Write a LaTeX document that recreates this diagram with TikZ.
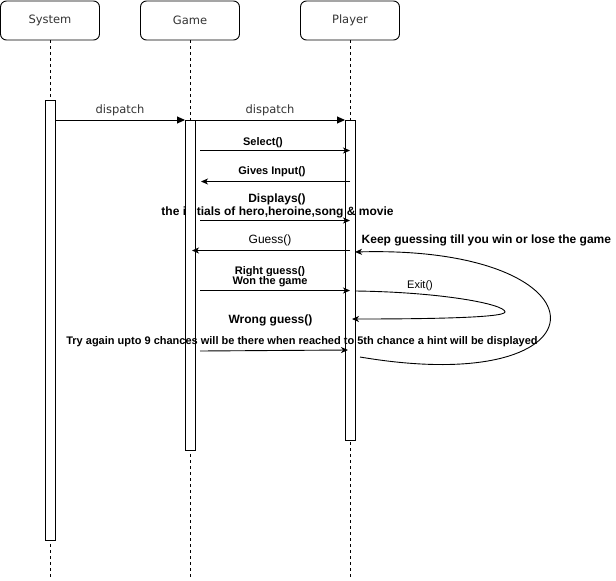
\documentclass[tikz,border=0pt]{standalone}
\usepackage{fontspec}
\setmainfont{Liberation Sans}
\newfontfamily\hdrfont{DejaVu Sans}
\usetikzlibrary{arrows.meta}

\begin{document}
\begin{tikzpicture}[x=1pt,y=-1pt,
  actor/.style={draw, rounded corners=6pt, minimum width=99pt, minimum height=39pt,
    line width=0.9pt, font=\hdrfont\fontsize{11.5}{13}\selectfont, text=black!80},
  lifeline/.style={dash pattern=on 3pt off 3pt, line width=0.8pt},
  bar/.style={draw, fill=white, minimum width=10pt, inner sep=0pt, line width=0.9pt},
  call/.style={-{Triangle[length=8pt,width=7pt]}, line width=0.9pt},
  msg/.style={-{Stealth[length=7pt,width=6pt,inset=2pt]}, line width=0.9pt},
  lbl/.style={font=\hdrfont\fontsize{11.5}{13}\selectfont, text=black!80, inner sep=0pt},
  note/.style={font=\fontsize{12}{14}\selectfont, inner sep=0pt},
  smallnote/.style={font=\fontsize{11}{13}\selectfont, inner sep=0pt},
  bnote/.style={font=\bfseries\fontsize{12}{14}\selectfont, inner sep=0pt},
  bsmall/.style={font=\bfseries\fontsize{11}{13}\selectfont, inner sep=0pt},
]
\useasboundingbox (0,0) rectangle (616,581);

% participants
\node[actor] (sys)  at (50,20.5)  {System};
\node[actor] (game) at (190,20.5) {Game};
\node[actor] (plr)  at (350,20.5) {Player};

% lifelines
\coordinate (sysend)  at (50,578);
\coordinate (gameend) at (190,578);
\coordinate (plrend)  at (350,578);
\draw[lifeline] (sys.south) -- (sysend);
\draw[lifeline] (game.south) -- (gameend);
\draw[lifeline] (plr.south) -- (plrend);

% activation bars
\node[bar, minimum height=440pt] (sysbar) at (50,320) {};
\node[bar, minimum height=320pt] (plrbar) at (350,280) {};

% display message text (partly hidden by the game bar)
\node[bnote] (disp)  at (277,199) {Displays()};
\node[bnote] (disp2) at (277.5,212.5) {the initials of hero,heroine,song \& movie};

\node[bar, minimum height=330pt] (gamebar) at (190,285) {};

% dispatch calls
\coordinate (d1s) at (55,120);  \coordinate (d1e) at (185,120);
\coordinate (d2s) at (195,120); \coordinate (d2e) at (345,120);
\draw[call] (d1s) -- (d1e);
\draw[call] (d2s) -- (d2e);
\node[lbl] (dl1) at (120,110.5) {dispatch};
\node[lbl] (dl2) at (270,110.5) {dispatch};

% messages between game and player
\coordinate (m1s) at (200,150.5); \coordinate (m1e) at (350,150.5);
\coordinate (m2s) at (350,181.5); \coordinate (m2e) at (201,181.5);
\coordinate (m3s) at (200,220.5); \coordinate (m3e) at (350,220.5);
\coordinate (m4s) at (350,250.5); \coordinate (m4e) at (192,250.5);
\coordinate (m5s) at (200,290.5); \coordinate (m5e) at (350,290.5);
\coordinate (m6s) at (200,351);   \coordinate (m6e) at (348,350);
\draw[msg] (m1s) -- (m1e);
\draw[msg] (m2s) -- (m2e);
\draw[msg] (m3s) -- (m3e);
\draw[msg] (m4s) -- (m4e);
\draw[msg] (m5s) -- (m5e);
\draw[msg] (m6s) -- (m6e);

\node[bsmall] (sel)   at (263,143)   {Select()};
\node[bsmall] (gives) at (272,171.5) {Gives Input()};
\node[note]   (guess) at (270,240.5) {Guess()};
\node[bsmall] (right) at (270,272)   {Right guess()};
\node[bsmall, fill=white, inner ysep=1pt] (won) at (270,282) {Won the game};
\node[bnote]  (wrong) at (270.5,320.5) {Wrong guess()};
\node[bsmall] (again) at (302,342)   {Try again upto 9 chances will be there when reached to 5th chance a hint will be displayed};

% self loops on the player
\coordinate (ls) at (360,357); \coordinate (le) at (355,252);
\draw[msg] (ls) .. controls (614,400) and (614,245) .. (le);
\node[bnote, anchor=west] (keep) at (361.5,240) {Keep guessing till you win or lose the game};

\coordinate (xs) at (355,291); \coordinate (xt) at (505,312); \coordinate (xe) at (352,319);
\draw[msg] (xs) .. controls (440,292) and (505,304) .. (xt)
                .. controls (505,318) and (420,319) .. (xe);
\node[smallnote, fill=white, inner sep=1pt] (exit) at (420,286) {Exit()};

\end{tikzpicture}
\end{document}
